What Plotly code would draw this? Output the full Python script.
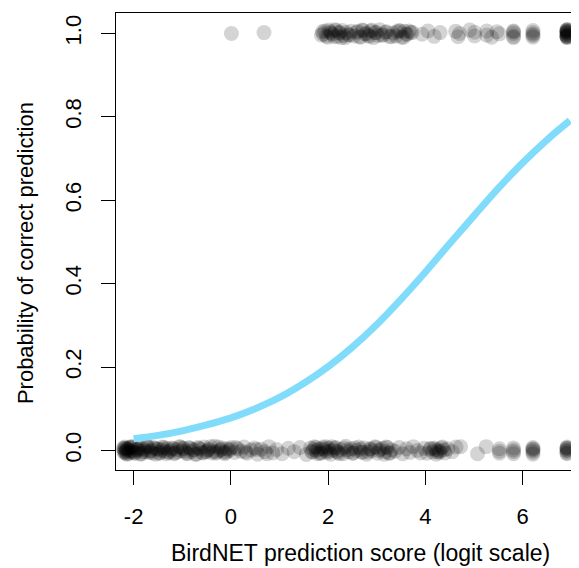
import plotly.graph_objects as go

# ---- data ----
# predictions that were correct (y = 1, drawn with small vertical jitter)
correct_x = [0.01, 0.68,
             1.86, 1.93, 1.99, 2.04, 2.09, 2.14, 2.19, 2.24, 2.29, 2.35, 2.41, 2.47, 2.53,
             2.58, 2.64, 2.70, 2.76, 2.82, 2.87, 2.93, 2.99, 3.06, 3.13, 3.20, 3.26,
             3.33, 3.39, 3.45, 3.51, 3.57, 3.63, 3.70,
             3.93, 4.05, 4.18, 4.30,
             4.62, 4.67, 4.70, 4.91, 5.01, 5.01, 5.26, 5.26, 5.36, 5.47, 5.52,
             5.81, 5.81, 5.81, 5.81, 5.81,
             6.21, 6.21, 6.21, 6.21, 6.21,
             6.91, 6.91, 6.91, 6.91, 6.91, 6.91, 6.91, 6.91,
             6.91, 6.91, 6.91, 6.91, 6.91, 6.91, 6.91, 6.91,
             1.90, 2.01, 2.12, 2.22, 2.32, 2.72, 2.85, 2.96, 3.10, 3.42, 3.55, 3.66,
             1.88, 1.96, 2.06, 2.16, 2.27, 2.38, 2.44, 2.61, 2.67, 2.79, 2.90, 3.02, 3.17, 3.30, 3.48, 3.60, 3.73]
correct_y = [1.000, 1.002,
             0.996, 1.006, 0.991, 1.004, 0.998, 1.009, 0.993, 1.001, 1.007, 0.990, 0.997, 1.005, 0.994,
             1.003, 0.992, 1.008, 0.999, 0.995, 1.006, 0.990, 1.002, 1.009, 0.996, 1.004, 0.993,
             1.001, 0.994, 1.007, 0.991, 1.005, 0.998, 1.003,
             0.998, 1.006, 0.993, 1.002,
             1.005, 0.992, 1.000, 1.008, 0.994, 1.003, 0.996, 1.006, 0.991, 1.004, 0.999,
             0.993, 1.006, 1.000, 0.990, 1.004,
             0.995, 1.007, 0.991, 1.002, 0.998,
             1.009, 0.992, 1.004, 0.997, 1.008, 0.991, 1.001, 1.006,
             0.994, 1.003, 0.990, 1.009, 0.996, 1.005, 0.993, 1.000,
             0.999, 1.008, 0.992, 1.003, 0.995, 1.007, 0.993, 1.002, 0.996, 1.004, 0.991, 1.006,
             1.004, 0.994, 1.001, 1.007, 0.990, 1.002, 0.996, 1.005, 0.991, 1.000, 1.008, 0.995, 1.003, 0.992,
             1.006, 0.998, 1.002]

# predictions that were wrong (y = 0, drawn with small vertical jitter)
wrong_x = [-2.20, -2.19, -2.18, -2.16, -2.15, -2.13, -2.11, -2.08, -2.05, -2.02, -1.98, -1.95, -1.91, -1.88,
           -1.84, -1.80, -1.76, -1.72, -1.68, -1.64, -1.60, -1.55, -1.50, -1.46, -1.41, -1.36, -1.31,
           -1.26, -1.21, -1.17, -1.12, -1.06, -1.01, -0.97, -0.92, -0.86, -0.81, -0.76, -0.71, -0.66,
           -0.60, -0.55, -0.50, -0.45, -0.39, -0.34, -0.29, -0.23, -0.18, -0.13, -0.08, -0.04, 0.01,
           0.07, 0.14, 0.20, 0.27, 0.33, 0.41, 0.48, 0.55, 0.62, 0.70, 0.78, 0.86, 0.94,
           1.05, 1.18, 1.30, 1.42, 1.55,
           1.64, 1.68, 1.72, 1.76, 1.80, 1.85, 1.90, 1.95, 2.00, 2.05, 2.10, 2.15, 2.20, 2.26, 2.31,
           2.36, 2.42, 2.47, 2.52, 2.58, 2.63, 2.68, 2.74, 2.79, 2.85, 2.90, 2.96, 3.01, 3.07, 3.12,
           3.17, 3.22, 3.27, 3.31,
           3.38, 3.46, 3.53, 3.61, 3.68, 3.75, 3.83, 3.90, 3.97,
           4.03, 4.09, 4.14, 4.18, 4.22, 4.26, 4.30, 4.35, 4.40, 4.46,
           4.55, 4.63, 4.72,
           5.07, 5.25,
           5.52, 5.52, 5.52,
           5.81, 5.81, 5.81, 5.81,
           6.21, 6.21, 6.21, 6.21, 6.21, 6.21,
           6.91, 6.91, 6.91, 6.91, 6.91, 6.91, 6.91, 6.91,
           -2.21, -2.17, -2.14, -2.10, -2.06, -2.00, -1.93, -1.86, -1.78, -1.70, -1.62, -1.53, -1.44, -1.38, -1.33,
           -1.24, -1.15, -1.04, -0.94, -0.84, -0.73, -0.63, -0.52, -0.42, -0.31, -0.20, -0.10,
           0.10, 0.30, 0.52, 0.74,
           1.70, 1.78, 1.87, 1.98, 2.08, 2.18, 2.33, 2.50, 2.66, 2.82, 2.98, 3.15,
           4.20, 4.28, 4.33,
           -2.20, -2.18, -2.15, -2.12, -2.07, -2.03, -1.97, -1.90, -1.82, -1.74, -1.66, -1.57, -1.48, -1.40, -1.29,
           -1.19, -1.09, -0.99, -0.89, -0.79, -0.68, -0.57, -0.47, -0.36, -0.26, -0.15, -0.02,
           1.66, 1.74, 1.83, 1.93, 2.03, 2.13, 2.23, 2.39, 2.55, 2.71, 2.88, 3.04, 3.19, 3.25, 1.96,
           4.11, 4.24, 4.38]
wrong_y = [0.003, -0.006, 0.008, -0.002, 0.005, -0.009, 0.001, 0.007, -0.004, 0.009, -0.007, 0.002, -0.001, 0.006,
           -0.008, 0.004, -0.003, 0.010, -0.005, 0.000, 0.007, -0.009, 0.003, -0.006, 0.008, -0.002, 0.005,
           -0.004, 0.006, -0.008, 0.002, 0.009, -0.001, 0.004, -0.007, 0.007, -0.003, 0.001, -0.009, 0.005,
           -0.005, 0.008, -0.002, 0.003, -0.006, 0.010, -0.004, 0.000, 0.006, -0.008, 0.004, -0.001, 0.007,
           -0.005, 0.004, -0.002, 0.008, -0.007, 0.001, 0.006, -0.009, 0.003, -0.003, 0.009, -0.006, 0.002,
           -0.008, 0.005, -0.003, 0.007, -0.010,
           0.006, -0.004, 0.009, -0.001, 0.003, -0.007, 0.008, -0.002, 0.005, -0.009, 0.001, 0.007, -0.005, 0.002,
           -0.008, 0.010, -0.003, 0.004, -0.006, 0.000, 0.008, -0.004, 0.006, -0.009, 0.003, -0.001, 0.009,
           -0.007, 0.002, 0.005, -0.003, 0.007, -0.006, 0.001,
           -0.002, 0.007, -0.008, 0.004, -0.005, 0.009, 0.000, -0.006, 0.005,
           -0.007, 0.003, -0.004, 0.006, -0.009, 0.001, -0.002, 0.008, -0.006, 0.004,
           -0.003, 0.008, 0.009,
           -0.008, 0.009,
           0.004, -0.002, -0.007,
           0.006, -0.003, 0.001, -0.008,
           0.007, -0.005, 0.002, -0.009, 0.004, -0.001,
           0.003, -0.006, 0.008, -0.002, 0.005, -0.008, 0.000, 0.006,
           0.006, -0.004, 0.002, -0.007, 0.009, -0.003, 0.005, -0.009, 0.001, 0.008, -0.006, 0.004, -0.001, 0.007, -0.008,
           0.001, -0.006, 0.008, -0.002, 0.005, -0.009, 0.003, -0.004, 0.009, -0.007, 0.002, -0.005,
           0.007, -0.004, 0.002, -0.008,
           0.002, -0.008, 0.004, -0.005, 0.009, -0.002, 0.006, -0.007, 0.003, -0.004, 0.007, -0.009,
           0.002, -0.005, 0.006,
           -0.002, 0.005, -0.008, 0.004, -0.001, 0.007, -0.006, 0.002, -0.004, 0.009, -0.002, 0.005, -0.007, 0.003, -0.005,
           0.004, -0.003, 0.006, -0.008, 0.002, 0.007, -0.006, 0.001, -0.002, 0.008, -0.004, 0.003,
           -0.003, 0.007, -0.006, 0.003, -0.002, 0.005, -0.008, 0.001, 0.006, -0.005, 0.004, -0.001, 0.008, -0.007, 0.009,
           0.005, -0.003, 0.001]

# fitted probability curve
curve_x = [-2.0, -1.5, -1.0, -0.5, 0.0, 0.5, 1.0, 1.5, 2.0, 2.5, 3.0, 3.5, 4.0, 4.5, 5.0, 5.5, 6.0, 6.5, 6.97]
curve_p = [0.028, 0.036, 0.047, 0.061, 0.078, 0.100, 0.127, 0.161, 0.201, 0.248, 0.302, 0.363, 0.428, 0.496,
           0.563, 0.629, 0.690, 0.745, 0.791]

x_ticks = [-2, 0, 2, 4, 6]
x_tick_labels = ["-2", "0", "2", "4", "6"]
y_ticks = [0.0, 0.2, 0.4, 0.6, 0.8, 1.0]
y_tick_labels = ["0.0", "0.2", "0.4", "0.6", "0.8", "1.0"]

FONT = "Liberation Sans, Arial, sans-serif"
pt_color = "rgba(0,0,0,0.17)"

fig = go.Figure()
fig.add_trace(go.Scatter(x=wrong_x, y=wrong_y, mode="markers",
                         marker=dict(size=15, color=pt_color, line=dict(width=0)),
                         hoverinfo="skip"))
fig.add_trace(go.Scatter(x=correct_x, y=correct_y, mode="markers",
                         marker=dict(size=15, color=pt_color, line=dict(width=0)),
                         hoverinfo="skip"))
fig.add_trace(go.Scatter(x=curve_x, y=curve_p, mode="lines",
                         line=dict(color="#80dcfa", width=7, shape="spline"),
                         hoverinfo="skip"))

# the page adds an 8px body margin, so the figure is 8px smaller than the window
fig.update_layout(
    width=571, height=560,
    margin=dict(l=108, r=0, t=5, b=98, pad=0),
    paper_bgcolor="white", plot_bgcolor="white",
    showlegend=False,
    font=dict(family=FONT, color="black", size=22),
    xaxis=dict(range=[-2.363, 7.157], tickmode="array", tickvals=x_ticks, ticktext=x_tick_labels,
               ticks="outside", ticklen=14, tickwidth=1, tickcolor="black",
               ticklabelstandoff=13,
               showline=True, linecolor="black", linewidth=1, mirror=True,
               showgrid=False, zeroline=False,
               tickfont=dict(family=FONT, size=22, color="black")),
    yaxis=dict(range=[-0.047, 1.049], tickmode="array", tickvals=y_ticks, ticktext=y_tick_labels,
               tickangle=-90, ticklabelstandoff=11,
               ticks="outside", ticklen=14, tickwidth=1, tickcolor="black",
               showline=True, linecolor="black", linewidth=1, mirror=False,
               showgrid=False, zeroline=False,
               tickfont=dict(family=FONT, size=22, color="black")),
    annotations=[
        dict(text="BirdNET prediction score (logit scale)", xref="paper", yref="paper",
             x=0.529, y=-0.181, xanchor="center", yanchor="middle", showarrow=False,
             font=dict(family=FONT, size=23, color="black")),
        dict(text="Probability of correct prediction", xref="paper", yref="paper",
             x=-0.194, y=0.475, xanchor="center", yanchor="middle", showarrow=False,
             textangle=-90, font=dict(family=FONT, size=22, color="black")),
    ],
)

fig.write_html("out.html")
